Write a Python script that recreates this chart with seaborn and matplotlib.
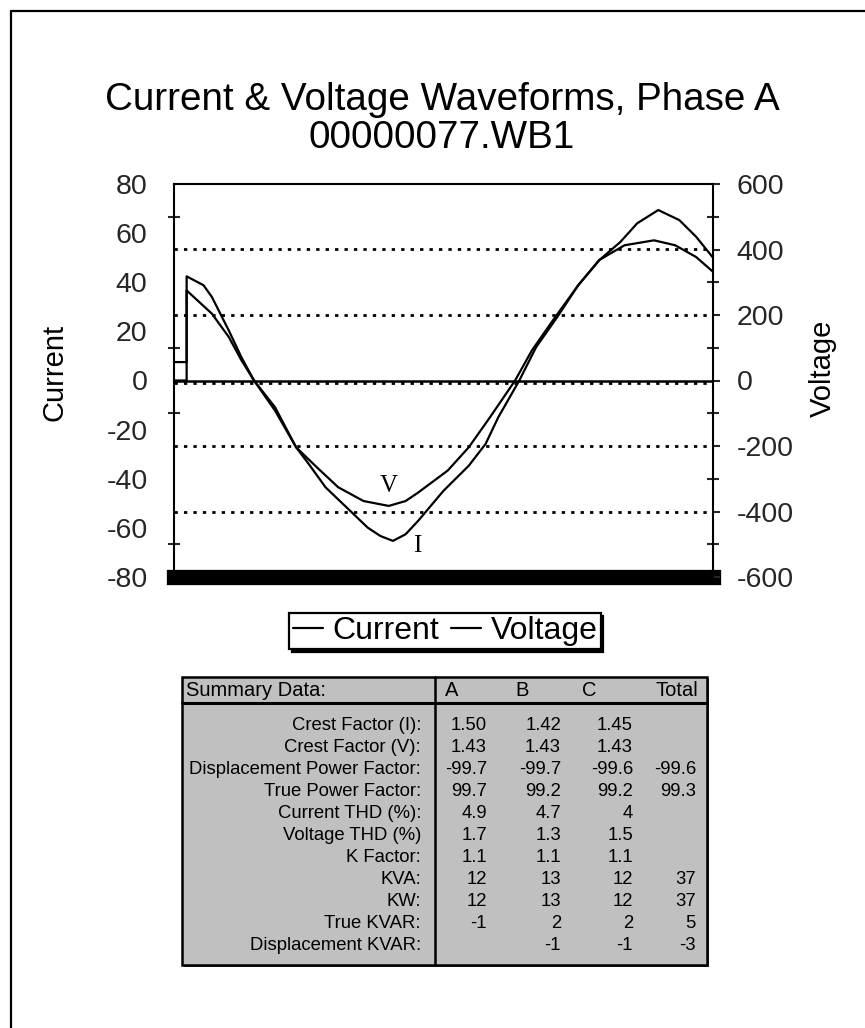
import matplotlib
matplotlib.use("Agg")
import matplotlib.pyplot as plt
from matplotlib.patches import Rectangle
from matplotlib.lines import Line2D
import seaborn as sns

# ---------------- data ----------------
samples_i = [0, 3, 3, 7, 9, 13, 16, 19, 24, 29, 32, 36, 41, 46, 49, 52, 55, 58, 64, 70,
             74, 77, 82, 86, 91, 96, 101, 106, 110, 115, 120, 124, 128]
current = [7.5, 7.5, 42.4, 38.8, 34, 20.4, 9.5, 0, -10.9, -27.2, -34, -43.5, -51.7, -59.9,
           -63.3, -65.3, -62.6, -57.1, -44.9, -34.7, -25.8, -15, 0, 13.6, 25.8, 38.8, 49,
           56.4, 64, 69.4, 65.3, 58.5, 50]

samples_v = [0, 3, 3, 9, 13, 16, 19, 24, 29, 34, 39, 45, 51, 55, 58, 65, 70, 75, 81, 85,
             90, 96, 101, 107, 114, 119, 124, 128]
voltage = [0, 0, 275, 204, 133, 62, 0, -92, -204, -266, -326, -368, -383, -368, -342, -275,
           -204, -113, 0, 92, 184, 291, 368, 413, 428, 413, 377, 332]

current_ticks = [-80, -60, -40, -20, 0, 20, 40, 60, 80]
voltage_ticks = [-600, -400, -200, 0, 200, 400, 600]
voltage_minor = [-500, -300, -100, 100, 300, 500]
voltage_grid = [-400, -200, 200, 400]

title_lines = ["Current & Voltage Waveforms, Phase A", "00000077.WB1"]

table_header = ["Summary Data:", "A", "B", "C", "Total"]
row_labels = ["Crest Factor (I):", "Crest Factor (V):", "Displacement Power Factor:",
              "True Power Factor:", "Current THD (%):", "Voltage THD (%)", "K Factor:",
              "KVA:", "KW:", "True KVAR:", "Displacement KVAR:"]
col_a = ["1.50", "1.43", "-99.7", "99.7", "4.9", "1.7", "1.1", "12", "12", "-1", ""]
col_b = ["1.42", "1.43", "-99.7", "99.2", "4.7", "1.3", "1.1", "13", "13", "2", "-1"]
col_c = ["1.45", "1.43", "-99.6", "99.2", "4", "1.5", "1.1", "12", "12", "2", "-1"]
col_total = ["", "", "-99.6", "99.3", "", "", "", "37", "37", "5", "-3"]

# ---------------- style ----------------
sns.set_style("ticks")
plt.rcParams["font.family"] = ["Liberation Sans", "DejaVu Sans"]
plt.rcParams["text.color"] = "black"

W, H = 865, 1028
fig = plt.figure(figsize=(W / 100, H / 100), dpi=100)
fig.patch.set_facecolor("white")

# background axes in pixel coordinates (page frame + table)
bg = fig.add_axes([0, 0, 1, 1], zorder=-1)
bg.set_xlim(0, W)
bg.set_ylim(H, 0)
bg.set_axis_off()

# page frame
bg.add_line(Line2D([11, 11], [11, H], color="black", lw=1.6))
bg.add_line(Line2D([11, W], [11, 11], color="black", lw=1.6))

# titles
fig.text(442 / W, 1 - 100 / H, title_lines[0], ha="center", va="center", fontsize=27.8)
fig.text(442 / W, 1 - 138 / H, title_lines[1], ha="center", va="center", fontsize=27.8)

# ---------------- chart ----------------
ax = fig.add_axes([174 / W, 1 - 577 / H, 539 / W, 393 / H])
ax.set_facecolor("none")
ax2 = ax.twinx()

ratio = voltage_ticks[-1] / current_ticks[-1]

sns.lineplot(x=samples_i, y=current, ax=ax, color="black", lw=1.6,
             estimator=None, sort=False, legend=False)
sns.lineplot(x=samples_v, y=voltage, ax=ax2, color="black", lw=1.6,
             estimator=None, sort=False, legend=False)
line_i = ax.lines[0]
line_v = ax2.lines[0]

for v in voltage_grid:
    ax.axhline(v / ratio, color="black", lw=2, ls=(0, (1.2, 2.2)), zorder=0.5)
ax.axhline(-1.2, color="black", lw=2, ls=(0, (1.2, 2.2)), zorder=0.5)
ax.axhline(0, color="black", lw=1.8, zorder=0.6)

ax.set_xlim(samples_i[0], samples_i[-1])
ax.set_ylim(current_ticks[0], current_ticks[-1])
ax2.set_ylim(voltage_ticks[0], voltage_ticks[-1])

ax.set_xticks([])
ax.set_yticks(current_ticks)
ax.set_yticklabels([str(t) for t in current_ticks])
ax.set_yticks([v / ratio for v in voltage_minor], minor=True)
ax.tick_params(axis="y", which="major", length=0, pad=19, labelsize=20.5)
ax.tick_params(axis="y", which="minor", direction="inout", length=8, width=1.5)

ax2.set_yticks(voltage_ticks)
ax2.set_yticklabels([str(t) for t in voltage_ticks])
ax2.set_yticks(voltage_minor, minor=True)
ax2.tick_params(axis="y", which="major", direction="out", length=5, width=1.5,
                pad=12, labelsize=20.5)
ax2.tick_params(axis="y", which="minor", direction="inout", length=8, width=1.5)

for s in ["top", "left"]:
    ax.spines[s].set_linewidth(1.5)
    ax.spines[s].set_color("black")
ax.spines["right"].set_visible(False)
ax.spines["bottom"].set_linewidth(11)
ax.spines["bottom"].set_color("black")
for s in ["top", "left", "bottom"]:
    ax2.spines[s].set_visible(False)
ax2.spines["right"].set_linewidth(1.5)
ax2.spines["right"].set_color("black")

# curve annotations
ax.text(51, -43, "V", family=["Liberation Serif", "DejaVu Serif"], fontsize=18,
        ha="center", va="center")
ax.text(57.8, -67.5, "I", family=["Liberation Serif", "DejaVu Serif"], fontsize=18,
        ha="center", va="center")

# axis titles
fig.text(55 / W, 1 - 372 / H, "Current", rotation=90, ha="center", va="center", fontsize=21)
fig.text(823 / W, 1 - 368 / H, "Voltage", rotation=90, ha="center", va="center", fontsize=21)

# legend
leg = fig.legend([line_i, line_v], ["Current", "Voltage"], loc="center",
                 bbox_to_anchor=(445 / W, 1 - 631 / H), ncol=2, fontsize=23,
                 handlelength=0.95, handletextpad=0.3, columnspacing=0.35,
                 borderpad=0.1, borderaxespad=0, frameon=True, fancybox=False,
                 edgecolor="black", framealpha=1,
                 shadow={"color": "black", "alpha": 1})
leg.get_frame().set_linewidth(1.6)

# ---------------- summary table ----------------
tx0, ty0, tx1, ty1 = 181.5, 676.5, 707, 965
bg.add_patch(Rectangle((tx0 + 2, ty0 + 2), tx1 - tx0, ty1 - ty0, facecolor="#333333",
                       edgecolor="none"))
bg.add_patch(Rectangle((tx0, ty0), tx1 - tx0, ty1 - ty0, facecolor="#c0c0c0",
                       edgecolor="black", lw=1.8))
bg.add_line(Line2D([tx0, tx1], [703, 703], color="black", lw=2.2))
bg.add_line(Line2D([435, 435], [ty0, ty1], color="black", lw=1.8))

hy = 690
bg.text(186, hy, table_header[0], ha="left", va="center", fontsize=14.5)
bg.text(445, hy, table_header[1], ha="left", va="center", fontsize=14.5)
bg.text(515, hy, table_header[2], ha="left", va="center", fontsize=14.5)
bg.text(582, hy, table_header[3], ha="left", va="center", fontsize=14.5)
bg.text(698, hy, table_header[4], ha="right", va="center", fontsize=14.5)

col_right = [487, 561, 633, 696]
columns = [col_a, col_b, col_c, col_total]
for k, lab in enumerate(row_labels):
    y = 725 + k * 22
    bg.text(421, y, lab, ha="right", va="center", fontsize=13.3)
    for xr, col in zip(col_right, columns):
        if col[k]:
            bg.text(xr, y, col[k], ha="right", va="center", fontsize=13.3)

fig.savefig("out.png", dpi=100, facecolor="white")
